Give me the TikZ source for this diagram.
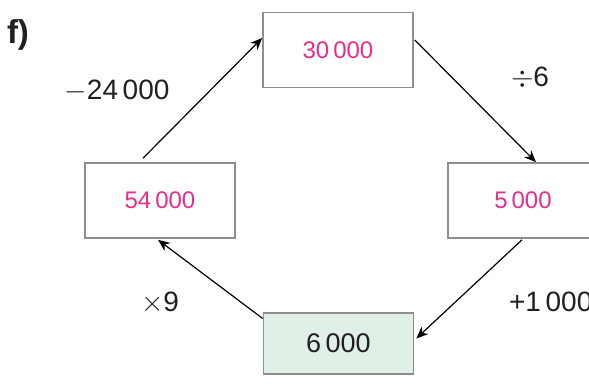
\documentclass[tikz,border=0pt]{standalone}
\usepackage{fontspec}
\setmainfont{Liberation Sans}
\usetikzlibrary{arrows.meta,calc}
\definecolor{cyclemagenta}{HTML}{E62E8B}
\definecolor{cyclegray}{HTML}{8E8E8E}
\definecolor{cyclegreen}{HTML}{E1F0E6}
\definecolor{cycletext}{HTML}{231F20}

\begin{document}
\begin{tikzpicture}[
  x=0.5pt,y=-0.5pt,
  every node/.style={align=center,text=cycletext},
  box/.style={draw=cyclegray,line width=0.8pt,fill=white,
             minimum width=75pt,minimum height=37.5pt,inner sep=0pt,
             font=\fontsize{12}{14}\selectfont,text=cyclemagenta},
  start/.style={box,fill=cyclegreen,minimum height=30.5pt,
               font=\fontsize{13.5}{15}\selectfont,text=cycletext},
  op/.style={font=\fontsize{14}{16}\selectfont},
  arr/.style={-{Stealth[length=6pt,width=5pt]},line width=0.6pt}
]
\useasboundingbox (0,0) rectangle (589,386);
\node[font=\bfseries\fontsize{16.5}{18}\selectfont] (label) at (18,35) {f)};
\node[box] (thirty) at (338,50) {30\,000};
\node[box] (five) at (523,200.5) {5\,000};
\node[start] (six) at (338.5,343.5) {6\,000};
\node[box] (fiftyfour) at (160,200.5) {54\,000};
\node[op] (minus) at (117,91) {$-$24\,000};
\node[op] (divide) at (530,78) {$\div$6};
\node[op,anchor=west] (plus) at (502,302) {+1\,000};
\node[op] (times) at (160,303) {$\times$9};
\draw[arr] ($(fiftyfour.north)+(-17,-4)$) -- ($(thirty.west)+(0,-12)$);
\draw[arr] ($(thirty.east)+(1,-10)$) -- ($(five.north)+(13,0)$);
\draw[arr] ($(five.south)+(-1,1)$) -- ($(six.east)+(2,-5)$);
\draw[arr] ($(six.west)+(0,-25)$) -- ($(fiftyfour.south)+(-2,1)$);
\end{tikzpicture}
\end{document}
